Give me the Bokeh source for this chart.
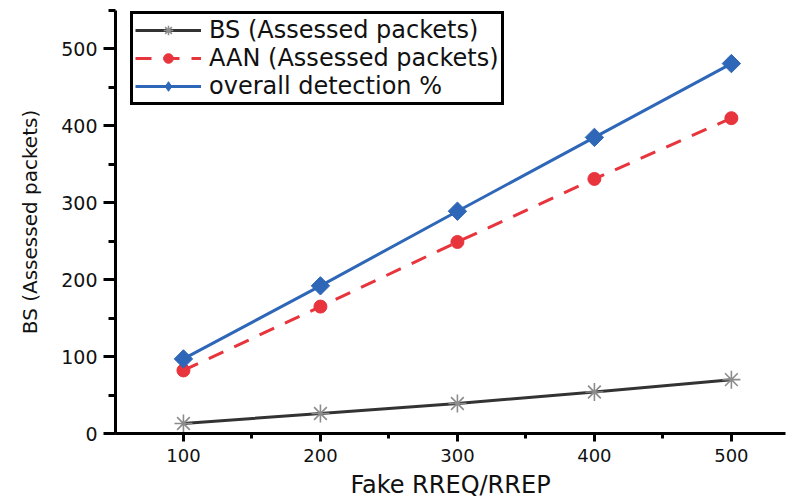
import math
from bokeh.plotting import figure
from bokeh.models import Range1d, SingleIntervalTicker, Legend, LegendItem
from bokeh.embed import file_html
from bokeh.resources import INLINE

# ---- data ----
x_vals = [100, 200, 300, 400, 500]
bs_vals = [13, 26, 39, 54, 70]
aan_vals = [82, 165, 249, 331, 410]
overall_vals = [97, 192, 289, 385, 481]

x_label = "Fake RREQ/RREP"
y_label = "BS (Assessed packets)"
series_names = ["BS (Assessed packets)", "AAN (Assessed packets)", "overall detection %"]

FONT = "DejaVu Sans"

p = figure(width=791, height=501, output_backend="svg", toolbar_location=None,
           x_range=Range1d(50.4, 539.5), y_range=Range1d(0, 550),
           min_border_left=115, min_border_right=6, min_border_top=10, min_border_bottom=68)
p.outline_line_color = None
p.xgrid.visible = False
p.ygrid.visible = False
p.background_fill_color = "white"
p.border_fill_color = "white"

# series
bs_line = p.line(x_vals, bs_vals, line_color="#333333", line_width=3)
bs_pts = p.scatter(x_vals, bs_vals, marker="asterisk", size=18, line_color="#8c8c8c", line_width=1.6)

aan_line = p.line(x_vals, aan_vals, line_color="#e8343c", line_width=3, line_dash="16 12")
aan_pts = p.scatter(x_vals, aan_vals, marker="circle", size=13, fill_color="#e8343c", line_color="#e8343c")

ov_line = p.line(x_vals, overall_vals, line_color="#2e67b8", line_width=3)
ov_pts = p.scatter(x_vals, overall_vals, marker="square", size=13, angle=math.pi / 4,
                   fill_color="#2e67b8", line_color="#2e67b8")
# legend-only diamond glyph (its single point lies outside the visible ranges)
ov_leg = p.scatter([-1000], [-1000], marker="diamond", size=22, fill_color="#2e67b8", line_color="#2e67b8")

# axes
for ax in (p.xaxis[0], p.yaxis[0]):
    ax.axis_line_width = 3
    ax.axis_line_color = "black"
    ax.major_tick_line_width = 3
    ax.minor_tick_line_width = 3
    ax.major_tick_line_color = "black"
    ax.minor_tick_line_color = "black"
    ax.major_tick_in = 0
    ax.minor_tick_in = 0
    ax.major_label_text_font = FONT
    ax.major_label_text_color = "#111111"
    ax.axis_label_text_font = FONT
    ax.axis_label_text_font_style = "normal"
    ax.axis_label_text_color = "#111111"

p.xaxis.ticker = SingleIntervalTicker(interval=100, num_minor_ticks=2)
p.yaxis.ticker = SingleIntervalTicker(interval=100, num_minor_ticks=2)

p.xaxis.major_tick_out = 8
p.xaxis.minor_tick_out = 5
p.xaxis.major_label_text_font_size = "18px"
p.xaxis.major_label_standoff = 7
p.xaxis.axis_label = x_label
p.xaxis.axis_label_text_font_size = "24px"
p.xaxis.axis_label_standoff = 6

p.yaxis.major_tick_out = 12
p.yaxis.minor_tick_out = 7
p.yaxis.major_label_text_font_size = "19px"
p.yaxis.major_label_standoff = 6
p.yaxis.axis_label = y_label
p.yaxis.axis_label_text_font_size = "20px"
p.yaxis.axis_label_standoff = 16

legend = Legend(items=[
    LegendItem(label=series_names[0], renderers=[bs_line, bs_pts]),
    LegendItem(label=series_names[1], renderers=[aan_line, aan_pts]),
    LegendItem(label=series_names[2], renderers=[ov_line, ov_leg]),
], location=(15, 328))
legend.border_line_color = "black"
legend.border_line_width = 3
legend.border_line_alpha = 1
legend.background_fill_color = "white"
legend.background_fill_alpha = 1
legend.label_text_font = FONT
legend.label_text_font_size = "24px"
legend.label_text_color = "#111111"
legend.glyph_width = 66
legend.glyph_height = 24
legend.label_height = 24
legend.spacing = 0
legend.padding = 2
legend.margin = 0
legend.label_standoff = 8
p.add_layout(legend)

open("out.html", "w").write(file_html(p, INLINE))
